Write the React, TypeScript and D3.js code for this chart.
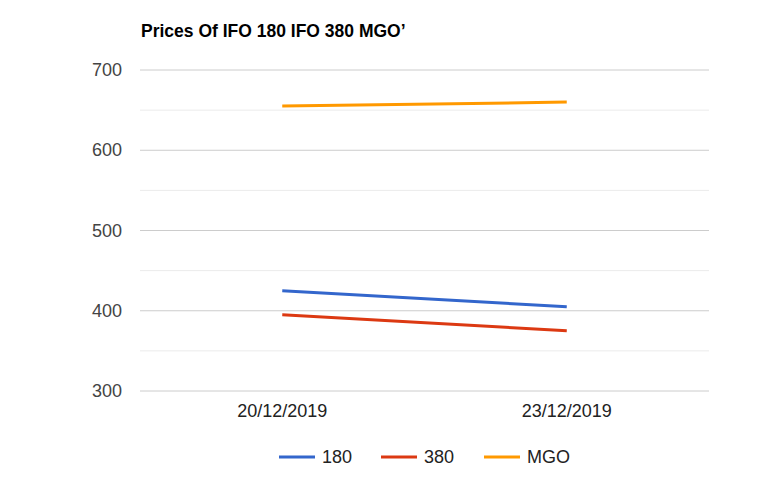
import React from "react";
import * as d3 from "d3";

const categories = ["20/12/2019", "23/12/2019"];
const seriesNames = ["180", "380", "MGO"];
const values180 = [425, 405];
const values380 = [395, 375];
const valuesMGO = [655, 660];
const colors = ["#3366cc", "#dc3912", "#ff9900"];
const yTicks = [300, 400, 500, 600, 700];
const yMinor = [350, 450, 550, 650];

export default function App() {
  const W = 764, H = 484;
  const left = 140, right = 709, top = 70, bottom = 391;
  const x = d3.scalePoint<string>().domain(categories).range([left, right]).padding(0.5);
  const y = d3.scaleLinear().domain([300, 700]).range([bottom, top]);
  const allSeries = [values180, values380, valuesMGO];
  const line = d3.line<number>().x((_, i) => x(categories[i])!).y((d) => y(d));
  const font = "Arial, 'Liberation Sans', sans-serif";
  const legendX = [279, 381, 484];
  return (
    <svg width={W} height={H} style={{ position: "absolute", left: 0, top: 0 }} fontFamily={font}>
      <rect width={W} height={H} fill="#fff" />
      <text x={141} y={37} fontSize={17.5} fontWeight="bold" fill="#000">Prices Of IFO 180 IFO 380 MGO’</text>
      {yMinor.map((t) => (
        <line key={"m" + t} x1={left} x2={right} y1={y(t)} y2={y(t)} stroke="#ebebeb" />
      ))}
      {yTicks.map((t) => (
        <g key={t}>
          <line x1={left} x2={right} y1={y(t)} y2={y(t)} stroke="#cccccc" />
          <text x={122} y={y(t) + 6} textAnchor="end" fontSize={18} fill="#444">{t}</text>
        </g>
      ))}
      {categories.map((c) => (
        <text key={c} x={x(c)} y={417} textAnchor="middle" fontSize={18} fill="#222">{c}</text>
      ))}
      {allSeries.map((s, i) => (
        <path key={i} d={line(s)!} fill="none" stroke={colors[i]} strokeWidth={3} />
      ))}
      {seriesNames.map((n, i) => (
        <g key={n}>
          <line x1={legendX[i]} x2={legendX[i] + 36} y1={457} y2={457} stroke={colors[i]} strokeWidth={3} />
          <text x={legendX[i] + 43} y={463} fontSize={18} fill="#222">{n}</text>
        </g>
      ))}
    </svg>
  );
}
